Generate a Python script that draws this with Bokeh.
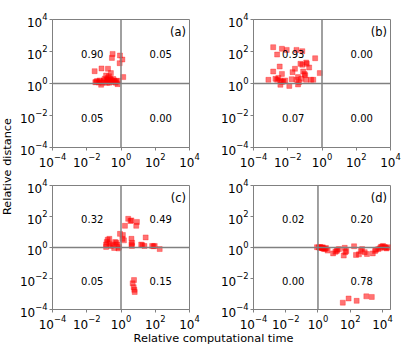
import numpy as np
from bokeh.plotting import figure
from bokeh.layouts import row, column
from bokeh.models import Range1d, FixedTicker, LogTickFormatter, Span
from bokeh.embed import file_html
from bokeh.resources import INLINE
from bokeh.core.properties import value

FONT = "DejaVu Sans"
GRAY = "#808080"
RED = "#ff0000"

# ---- data (log10 of relative computational time / relative distance) ----
tick_values = [1e-4, 1e-2, 1e0, 1e2, 1e4]

a_log_time = [-0.49, -0.53, -0.06, -0.08, -1.54, -1.14, -0.76, -0.59, -0.87, -0.76,
              -1.50, -1.40, -1.25, -1.02, -0.91, -0.82, -0.72, -0.59, -0.49, -0.40,
              -0.27, -0.15, -0.68, -0.82, -1.30, -0.62, -0.70, -1.20, -0.35, -0.95,
              -0.55, -1.10, -0.45, -0.30, -0.78, -1.45, 0.08, 0.13, -1.16, -0.20]
a_log_dist = [1.85, 1.60, 1.75, 1.27, 0.77, 0.94, 0.92, 0.65, 0.50, 0.35,
              0.08, 0.15, 0.19, 0.19, 0.08, 0.23, 0.12, 0.23, 0.15, 0.19,
              0.15, 0.17, 0.05, 0.04, 0.06, 0.30, 0.45, 0.10, 0.10, 0.30,
              0.10, 0.05, 0.28, 0.05, 0.18, 0.10, 1.50, 0.40, -0.08, -0.04]

b_log_time = [-2.85, -2.34, -2.06, -1.49, -1.15, -2.62, -0.40, -1.26, -1.15, -0.92,
              -0.89, -2.47, -1.58, -2.85, -2.34, -1.72, -1.02, -0.98, -0.13, -3.13,
              -2.72, -2.62, -2.43, -2.34, -2.25, -1.77, -1.40, -1.34, -1.21, -0.92,
              -0.64, -0.51, -2.15, -1.49, -2.55, -1.10, -0.75, -2.43, -1.91, -1.40]
b_log_dist = [2.27, 2.17, 2.10, 2.10, 2.02, 1.81, 1.58, 1.23, 1.17, 1.31,
              1.23, 1.06, 0.92, 0.75, 0.60, 0.71, 0.60, 0.52, 0.65, 0.23,
              0.29, 0.23, 0.19, 0.10, 0.13, 0.27, 0.40, 0.08, 0.29, 0.23,
              0.23, 0.23, 0.19, 0.23, 0.35, 0.75, 1.00, -0.08, -0.15, -0.06]

c_log_time = [-0.06, -0.78, -0.68, -0.83, -0.87, -0.87, -0.68, -0.49, -0.34, -0.27,
              -0.21, -0.11, -0.59, 0.42, 0.55, 0.61, 0.93, 0.89, 0.23, 0.11,
              0.17, 0.08, 0.61, 1.44, 0.61, 0.64, 1.18, 1.25, 1.37, 1.82,
              1.97, 0.65, 1.90, -0.15, -0.40, 2.26, 0.76, 0.68, 0.74, 0.78, 0.80]
c_log_dist = [0.88, 0.50, 0.56, 0.35, 0.19, 0.04, 0.25, 0.19, 0.35, 0.31,
              0.19, 0.04, 0.10, 1.85, 1.71, 1.75, 1.65, 1.40, 1.40, 0.81,
              0.46, 0.56, 0.56, 0.65, 0.19, 0.10, 0.19, 0.15, 0.10, 0.10,
              0.10, 0.30, 0.08, -0.06, -0.03, -0.10, -2.10, -2.31, -2.56, -2.73, -2.87]

d_log_time = [-0.06, 0.05, 0.15, 2.24, 3.90, 4.04, 4.14, 4.36, 0.30, 3.98,
              0.10, 0.20, 0.30, 0.38, 0.50, 0.60, 0.94, 1.16, 1.30, 1.60,
              1.66, 1.76, 2.36, 2.54, 2.66, 2.74, 3.04, 3.40, 3.54, 3.74,
              4.26, 4.20, 0.25, 1.20, 1.70, 3.60, 0.45, 3.85, 1.08, 2.90,
              1.54, 1.90, 2.40, 3.00, 3.34]
d_log_dist = [0.02, 0.02, 0.03, 0.08, 0.04, 0.10, 0.03, 0.02, 0.01, 0.06,
              -0.02, -0.01, -0.06, -0.10, -0.04, -0.20, -0.38, -0.23, -0.10, -0.52,
              -0.02, -0.23, -0.48, -0.44, -0.23, -0.10, -0.42, -0.38, -0.23, -0.10,
              -0.06, -0.02, -0.03, -0.15, -0.30, -0.15, -0.08, -0.05, -0.28, -0.30,
              -3.56, -3.29, -3.44, -3.15, -3.19]

a_fractions = ["0.90", "0.05", "0.05", "0.00"]
b_fractions = ["0.93", "0.00", "0.07", "0.00"]
c_fractions = ["0.32", "0.49", "0.05", "0.15"]
d_fractions = ["0.02", "0.20", "0.00", "0.78"]

FW, FH = 141, 128
YL_W = 16
L, R1, R2 = 32, 28, 15
T1, B1, T2, B2 = 19, 30, 8, 18
XL_H = 15


def panel(log_t, log_d, fracs, tag, xmax_exp, left, right, top, bottom):
    p = figure(width=left + FW + right, height=top + FH + bottom,
               x_axis_type="log", y_axis_type="log",
               x_range=Range1d(1e-4, 10 ** xmax_exp), y_range=Range1d(1e-4, 1e4),
               output_backend="svg", toolbar_location=None,
               min_border_left=left, min_border_right=right,
               min_border_top=top, min_border_bottom=bottom)
    p.grid.visible = False
    p.outline_line_color = GRAY
    p.outline_line_width = 1
    for ax in (p.xaxis[0], p.yaxis[0]):
        ax.ticker = FixedTicker(ticks=tick_values, minor_ticks=[])
        ax.formatter = LogTickFormatter()
        ax.axis_line_color = GRAY
        ax.major_tick_line_color = GRAY
        ax.major_tick_in = 0
        ax.major_tick_out = 3
        ax.minor_tick_out = 0
        ax.minor_tick_in = 0
        ax.major_label_text_font = FONT
        ax.major_label_text_font_size = "12px"
        ax.major_label_text_color = "black"
        ax.major_label_standoff = 2
    p.add_layout(Span(location=1, dimension="height", line_color=GRAY, line_width=1.5))
    p.add_layout(Span(location=1, dimension="width", line_color=GRAY, line_width=1.5))

    xs = np.power(10.0, np.array(log_t))
    ys = np.power(10.0, np.array(log_d))
    p.scatter(xs, ys, marker="square", size=5, fill_color=RED, fill_alpha=0.55,
              line_color=RED, line_alpha=0.3)

    span = xmax_exp + 4
    fx = [0.29, 0.79, 0.29, 0.79]
    fy = [0.73, 0.73, 0.23, 0.23]
    tx = [10 ** (-4 + f * span) for f in fx]
    ty = [10 ** (-4 + f * 8) for f in fy]
    p.text(tx, ty, text=fracs, text_font=value(FONT), text_font_size="10px",
           text_align="center", text_baseline="middle", text_color="black")
    p.text([10 ** (-4 + 0.975 * span)], [10 ** (-4 + 0.90 * 8)], text=[tag],
           text_font=value(FONT), text_font_size="11.5px",
           text_align="right", text_baseline="middle", text_color="black")
    return p


pa = panel(a_log_time, a_log_dist, a_fractions, "(a)", 4, L, R1, T1, B1)
pb = panel(b_log_time, b_log_dist, b_fractions, "(b)", 4, L, R2, T1, B1)
pc = panel(c_log_time, c_log_dist, c_fractions, "(c)", 4, L, R1, T2, B2)
pd = panel(d_log_time, d_log_dist, d_fractions, "(d)", 4.5, L, R2, T2, B2)

grid_w = (L + FW + R1) + (L + FW + R2)


def label_fig(w, h):
    f = figure(width=w, height=h, x_range=Range1d(0, w), y_range=Range1d(0, h),
               output_backend="svg", toolbar_location=None,
               min_border=0, min_border_left=0, min_border_right=0,
               min_border_top=0, min_border_bottom=0)
    f.axis.visible = False
    f.grid.visible = False
    f.outline_line_color = None
    return f


xl = label_fig(grid_w, XL_H)
xl.text([213 - YL_W], [XL_H - 7], text=["Relative computational time"],
        text_font=value(FONT), text_font_size="11.3px", text_align="center",
        text_baseline="middle", text_color="black")

total_h = (T1 + FH + B1) + (T2 + FH + B2) + XL_H
yl = label_fig(YL_W, total_h)
yl.text([7], [total_h - 166], text=["Relative distance"], text_font=value(FONT),
        text_font_size="11.3px", text_align="center", text_baseline="middle",
        angle=np.pi / 2, text_color="black")

layout = row(yl, column(row(pa, pb), row(pc, pd), xl))

open("out.html", "w").write(file_html(layout, INLINE))
